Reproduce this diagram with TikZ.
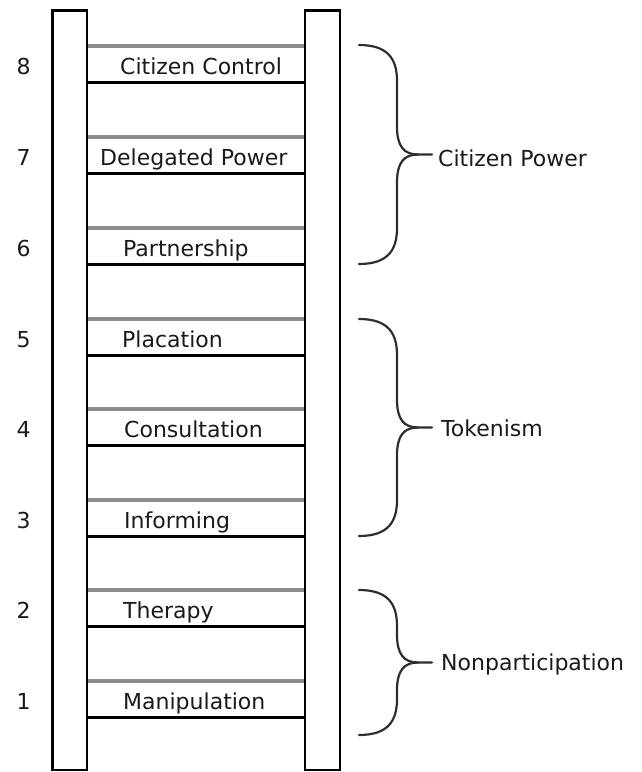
\documentclass[tikz,border=0pt]{standalone}
\usepackage{fontspec}
\setmainfont{DejaVu Sans}
\definecolor{runggray}{HTML}{8C8C8C}
\definecolor{bracegray}{HTML}{2E2E2E}
\definecolor{textdark}{HTML}{1A1A1A}
\tikzset{
  rail/.style={draw=black, line width=2.6pt, fill=white},
  rungtop/.style={draw=runggray, line width=3.2pt},
  rungbot/.style={draw=black, line width=3pt},
  lbl/.style={anchor=base west, inner sep=0pt, text=textdark, font=\fontsize{22pt}{26pt}\selectfont},
  num/.style={anchor=base, inner sep=0pt, text=textdark, font=\fontsize{22pt}{26pt}\selectfont},
  bracestyle/.style={draw=bracegray, line width=2.2pt, line cap=round},
}
\newcommand{\ladderbrace}[3]{% #1 top, #2 bottom, #3 label
  \pgfmathsetmacro{\bm}{(#1+#2)/2}
  \coordinate (bt#3) at (359,#1);
  \coordinate (bb#3) at (359,#2);
  \coordinate (tip#3) at (432,\bm);
  \draw[bracestyle] (bt#3) .. controls (388,#1) and (397,#1+14) .. (397,#1+36)
     -- (397,\bm-28) .. controls (397,\bm-8) and (404,\bm) .. (418,\bm) -- (tip#3);
  \draw[bracestyle] (bb#3) .. controls (388,#2) and (397,#2-14) .. (397,#2-36)
     -- (397,\bm+28) .. controls (397,\bm+8) and (404,\bm) .. (418,\bm);
}
\begin{document}
\begin{tikzpicture}[x=1pt,y=-1pt]
\useasboundingbox[fill=white] (0,0) rectangle (641,772);
% rails
\path[rail] (52.5,10.5) rectangle (87,770);
\path[rail] (305,10.5) rectangle (340,770);
% rungs
\foreach \t in {46,137,228,319,409,500,590,681}{
  \draw[rungtop] (88,\t) -- (304,\t);
  \draw[rungbot] (88,\t+36) -- (304,\t+36);
}
% labels
\node[lbl] (l8) at (120,74) {Citizen Control};
\node[lbl] (l7) at (100,165) {Delegated Power};
\node[lbl] (l6) at (123,256) {Partnership};
\node[lbl] (l5) at (122,347) {Placation};
\node[lbl] (l4) at (124,437) {Consultation};
\node[lbl] (l3) at (124,528) {Informing};
\node[lbl] (l2) at (123,618) {Therapy};
\node[lbl] (l1) at (123,709) {Manipulation};
% numbers
\node[num] (n8) at (23.5,74) {8};
\node[num] (n7) at (23.5,165) {7};
\node[num] (n6) at (23.5,256) {6};
\node[num] (n5) at (23.5,347) {5};
\node[num] (n4) at (23.5,437) {4};
\node[num] (n3) at (23.5,528) {3};
\node[num] (n2) at (23.5,618) {2};
\node[num] (n1) at (23.5,709) {1};
% braces
\ladderbrace{45}{264}{cp}
\ladderbrace{319}{536}{tk}
\ladderbrace{590}{735}{np}
\node[lbl] (gcp) at (438,166) {Citizen Power};
\node[lbl] (gtk) at (441,436) {Tokenism};
\node[lbl] (gnp) at (441,670) {Nonparticipation};
\end{tikzpicture}
\end{document}
